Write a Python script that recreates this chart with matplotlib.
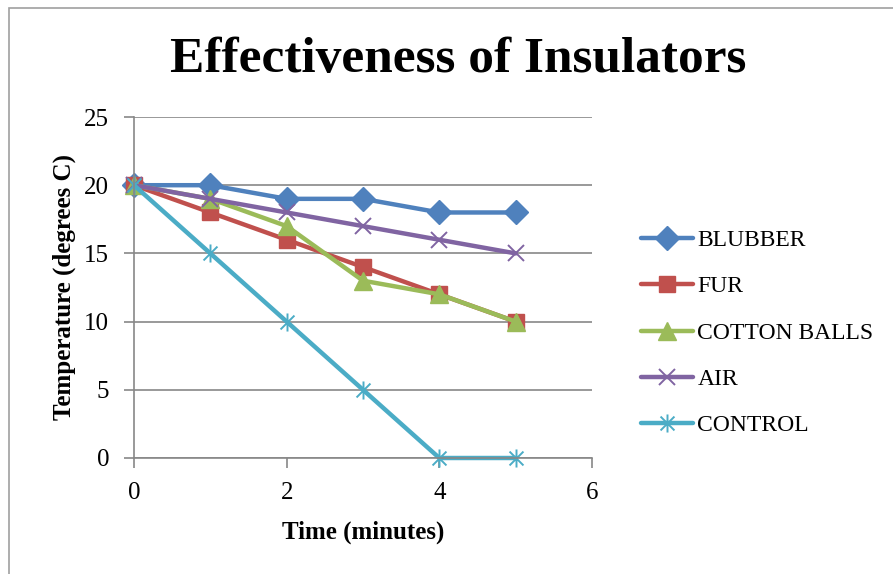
import matplotlib
matplotlib.use("Agg")
from matplotlib import pyplot as plt
from matplotlib.path import Path
from matplotlib.patches import Rectangle

plt.rcParams["font.family"] = "Liberation Serif"

# Data ─────────────────────────────────────────────────────────────────────────
time_min = [0, 1, 2, 3, 4, 5]
blubber = [20, 20, 19, 19, 18, 18]
fur = [20, 18, 16, 14, 12, 10]
cotton_balls = [20, 19, 17, 13, 12, 10]
air = [20, 19, 18, 17, 16, 15]
control = [20, 15, 10, 5, 0, 0]

series = [
    ("BLUBBER", blubber, "#4F81BD", "D", 12),
    ("FUR", fur, "#C0504D", "s", 12),
    ("COTTON BALLS", cotton_balls, "#9BBB59", "^", 13),
    ("AIR", air, "#8064A2", "x", 12),
    ("CONTROL", control, "#4BACC6", "star", 13),
]

# Excel style asterisk marker
star = Path(
    [(-1, -1), (1, 1), (-1, 1), (1, -1), (0, -1.3), (0, 1.3)],
    [Path.MOVETO, Path.LINETO, Path.MOVETO, Path.LINETO, Path.MOVETO, Path.LINETO],
)

# Plot ─────────────────────────────────────────────────────────────────────────
fig = plt.figure(figsize=(8.93, 5.74), dpi=100)
ax = fig.add_axes([134 / 893, 1 - 458 / 574, (592 - 134) / 893, (458 - 117) / 574])

for name, vals, col, mk, ms in series:
    kw = dict(color=col, lw=3.2, ms=ms, label=name, clip_on=False,
              solid_capstyle="round")
    if mk == "star":
        ax.plot(time_min, vals, marker=star, mew=1.4, mec=col, mfc=col, **kw)
    elif mk == "x":
        ax.plot(time_min, vals, marker=mk, mew=1.4, **kw)
    else:
        ax.plot(time_min, vals, marker=mk, mec=col, mfc=col, **kw)

ax.set_xlim(0, 6)
ax.set_ylim(0, 25)
ax.set_xticks([0, 2, 4, 6])
ax.set_yticks([0, 5, 10, 15, 20, 25])
ax.grid(axis="y", color="#878787", lw=1.2)
ax.set_axisbelow(True)
for s in ["top", "right"]:
    ax.spines[s].set_visible(False)
for s in ["left", "bottom"]:
    ax.spines[s].set_color("#878787")
    ax.spines[s].set_linewidth(1.2)
ax.tick_params(axis="both", colors="#878787", labelcolor="black", labelsize=18,
               length=7, width=1.2, direction="out")
ax.tick_params(axis="x", pad=10)
ax.tick_params(axis="y", pad=11)

ax.set_xlabel("Time (minutes)", fontsize=18, fontweight="bold", labelpad=12)
ax.set_ylabel("Temperature (degrees C)", fontsize=18, fontweight="bold", labelpad=6)
fig.text(458 / 893, 1 - 60 / 574, "Effectiveness of Insulators", fontsize=37,
         fontweight="bold", ha="center", va="center")

leg = fig.legend(loc="center left", bbox_to_anchor=(629 / 893, 1 - 333 / 574),
                 frameon=False, fontsize=17, handlelength=2.2, handletextpad=0.2,
                 labelspacing=1.05, borderpad=0)

# chart frame
fig.patches.append(Rectangle((9 / 893, -0.1), 1.2, 1 - 8 / 574 + 0.1,
                             transform=fig.transFigure, fill=False,
                             edgecolor="#a0a0a0", lw=1.2))

fig.savefig("out.png", dpi=100)
